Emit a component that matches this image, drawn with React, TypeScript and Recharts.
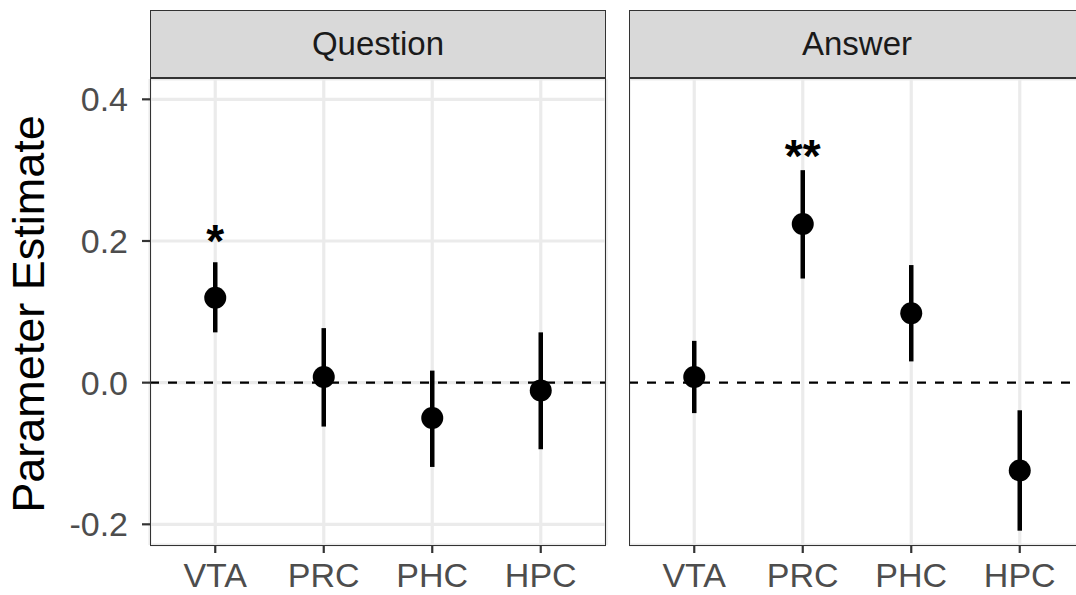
import React from "react";
import { Bar, CartesianGrid, ComposedChart, ReferenceLine, Scatter, XAxis, YAxis } from "recharts";

const regions = ["VTA", "PRC", "PHC", "HPC"];

const questionEst = [0.12, 0.008, -0.05, -0.011];
const questionLow = [0.071, -0.062, -0.119, -0.094];
const questionHigh = [0.17, 0.077, 0.017, 0.071];
const questionStars = ["*", "", "", ""];
const questionStarY = [0.211, null, null, null];

const answerEst = [0.008, 0.224, 0.098, -0.124];
const answerLow = [-0.043, 0.147, 0.03, -0.209];
const answerHigh = [0.059, 0.3, 0.166, -0.039];
const answerStars = ["", "**", "", ""];
const answerStarY = [null, 0.331, null, null];

const majorBreaks = [-0.2, 0, 0.2, 0.4];
const minorBreaks = [-0.1, 0.1, 0.3];
const yDomain = [-0.2292, 0.4287];

const FONT = '"Liberation Sans", Arial, sans-serif';
const GRID = "#EBEBEB";

function buildRows(est: number[], low: number[], high: number[], stars: string[], starY: (number | null)[]) {
  return regions.map((region, i) => ({
    region,
    est: est[i],
    range: [low[i], high[i]],
    star: stars[i],
    starY: starY[i],
  }));
}

const Dot = (p: any) => <circle cx={p.cx} cy={p.cy} r={11} fill="#000" />;

const Star = (p: any) =>
  p.payload && p.payload.star ? (
    <text x={p.cx} y={p.cy} dy="0.52em" textAnchor="middle" fontFamily={FONT} fontWeight="bold" fontSize={46} fill="#000">
      {p.payload.star}
    </text>
  ) : null;

function Panel({ title, rows, showY, left, width }: { title: string; rows: any[]; showY: boolean; left: number; width: number }) {
  const yw = showY ? 150 : 0;
  const plotLeft = left + yw;
  return (
    <>
      <div style={{ position: "absolute", left, top: 0 }}>
        <ComposedChart width={width} height={595} data={rows} margin={{ top: 79, right: showY ? 4 : 0, bottom: 0, left: 0 }}>
          <CartesianGrid yAxisId="minor" vertical={false} stroke={GRID} strokeWidth={1.8} />
          <CartesianGrid stroke={GRID} strokeWidth={3.2} />
          <XAxis
            dataKey="region"
            padding={{ left: 11, right: 11 }}
            axisLine={false}
            tickSize={8}
            tickMargin={10}
            tickLine={{ stroke: "#333333", strokeWidth: 2.2 }}
            tick={{ fill: "#4D4D4D", fontSize: 34, fontFamily: FONT }}
            height={50}
            interval={0}
          />
          <YAxis
            type="number"
            domain={yDomain}
            allowDataOverflow
            ticks={majorBreaks}
            width={yw}
            axisLine={false}
            tickSize={showY ? 8 : 0}
            tickMargin={showY ? 14 : 0}
            tickLine={showY ? { stroke: "#333333", strokeWidth: 2.2 } : false}
            tick={showY ? { fill: "#4D4D4D", fontSize: 34, fontFamily: FONT } : false}
            tickFormatter={(v: number) => v.toFixed(1)}
            label={
              showY
                ? {
                    content: () => (
                      <text x={44} y={314} transform="rotate(-90 44 314)" textAnchor="middle" fontFamily={FONT} fontSize={45} fill="#000">
                        Parameter Estimate
                      </text>
                    ),
                  }
                : undefined
            }
          />
          <YAxis
            yAxisId="minor"
            orientation="right"
            type="number"
            domain={yDomain}
            allowDataOverflow
            ticks={minorBreaks}
            width={0}
            axisLine={false}
            tickLine={false}
            tick={false}
          />
          <ReferenceLine y={0} stroke="#000" strokeWidth={2.2} strokeDasharray="9 9" zIndex={-50} />
          <Bar dataKey="range" barSize={4.5} fill="#000" isAnimationActive={false} />
          <Scatter dataKey="est" shape={Dot} isAnimationActive={false} />
          <Scatter dataKey="starY" shape={Star} isAnimationActive={false} />
        </ComposedChart>
      </div>
      <div
        style={{
          position: "absolute",
          left: plotLeft,
          top: 10,
          width: 456,
          height: 68,
          boxSizing: "border-box",
          background: "#D9D9D9",
          border: "1.6px solid #333333",
          display: "flex",
          alignItems: "center",
          justifyContent: "center",
          fontFamily: FONT,
          fontSize: 33,
          color: "#1A1A1A",
        }}
      >
        {title}
      </div>
      <div
        style={{
          position: "absolute",
          left: plotLeft,
          top: 78,
          width: 456,
          height: 468,
          boxSizing: "border-box",
          border: "1.6px solid #333333",
          pointerEvents: "none",
        }}
      />
    </>
  );
}

export default function App() {
  const qRows = buildRows(questionEst, questionLow, questionHigh, questionStars, questionStarY);
  const aRows = buildRows(answerEst, answerLow, answerHigh, answerStars, answerStarY);
  return (
    <div style={{ position: "absolute", left: 0, top: 0, width: 1076, height: 595, overflow: "hidden", background: "#fff" }}>
      <Panel title="Question" rows={qRows} showY left={0} width={610} />
      <Panel title="Answer" rows={aRows} showY={false} left={629} width={456} />
    </div>
  );
}
